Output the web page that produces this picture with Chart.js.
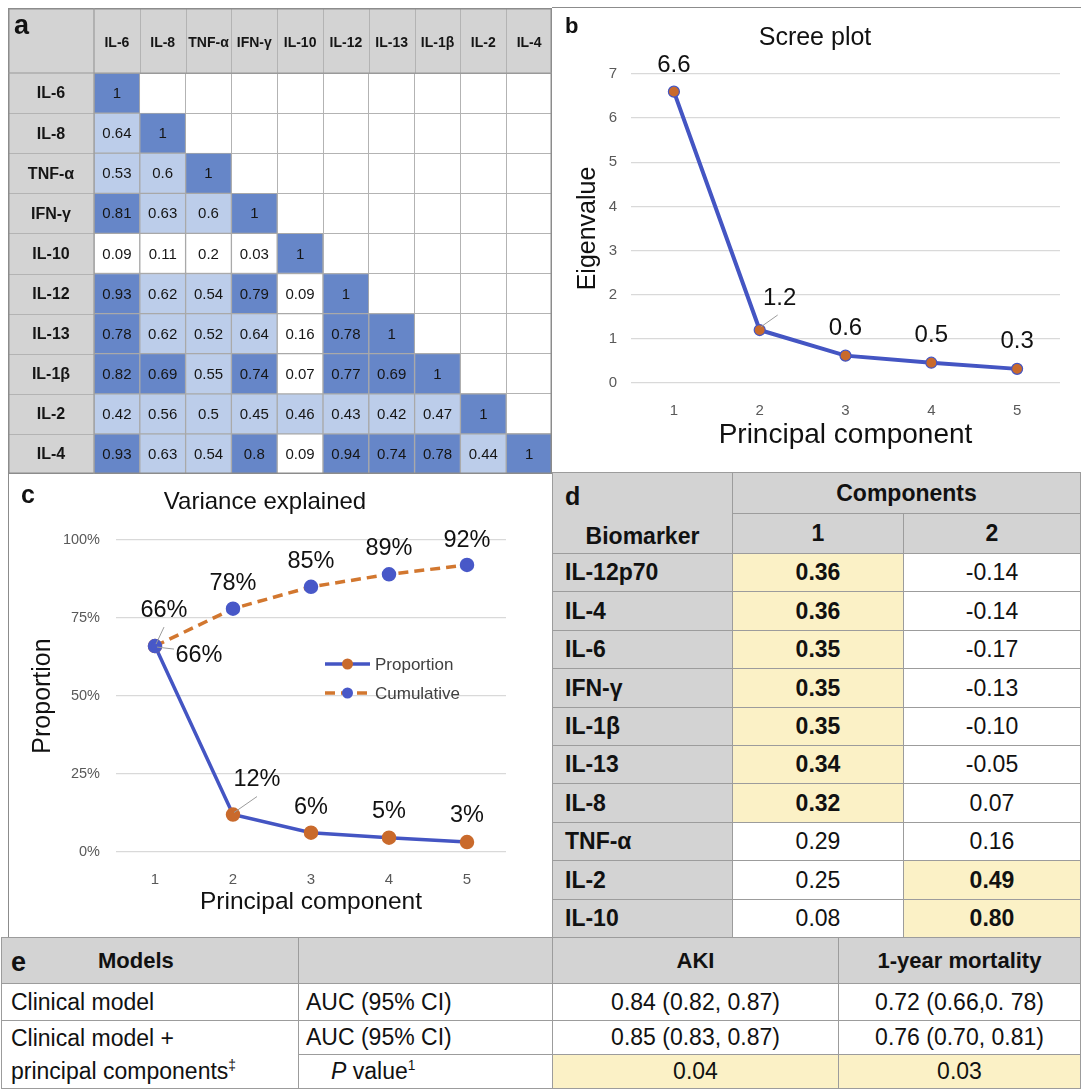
<!DOCTYPE html>
<html>
<head>
<meta charset="utf-8">
<script src="https://cdn.jsdelivr.net/npm/chart.js@4.4.1/dist/chart.umd.min.js"></script>
<style>
html, body { margin: 0; padding: 0; background: #fff; }
body { width: 1081px; height: 1089px; position: relative; overflow: hidden; font-family: 'Liberation Sans', Arial, sans-serif; color: #111; }
.box { position: absolute; }
.tag { position: absolute; font-weight: bold; line-height: 1; color: #111; }
.cell { position: absolute; box-sizing: border-box; border: 1px solid #9c9c9c; display: flex; align-items: center; justify-content: center; white-space: nowrap; background: #fff; }
.cell.gray { background: #d3d3d3; }
.cell.hi { background: #fbf1c6; }
.cell.left { justify-content: flex-start; }
.cell b { font-weight: bold; }
sup { font-size: 60%; line-height: 0; vertical-align: super; }
</style>
</head>
<body>
<div class="box" style="left:8px;top:8px;width:544px;height:466px"><canvas id="heat"></canvas></div>
<div class="box" style="left:552px;top:8px;width:529px;height:466px"><canvas id="scree"></canvas></div>
<div class="box" style="left:8px;top:474px;width:544px;height:464px"><canvas id="variance"></canvas></div>
<div id="tables"></div>

<script>
const FONT = "'Liberation Sans', Arial, sans-serif";
const BLUE = '#4455c3';
const ORANGE = '#c96a2c';

// panel a: correlation matrix (lower triangle)
const cytokines = ['IL-6', 'IL-8', 'TNF-α', 'IFN-γ', 'IL-10', 'IL-12', 'IL-13', 'IL-1β', 'IL-2', 'IL-4'];
const corr = [
    [1],
    [0.64, 1],
    [0.53, 0.6, 1],
    [0.81, 0.63, 0.6, 1],
    [0.09, 0.11, 0.2, 0.03, 1],
    [0.93, 0.62, 0.54, 0.79, 0.09, 1],
    [0.78, 0.62, 0.52, 0.64, 0.16, 0.78, 1],
    [0.82, 0.69, 0.55, 0.74, 0.07, 0.77, 0.69, 1],
    [0.42, 0.56, 0.5, 0.45, 0.46, 0.43, 0.42, 0.47, 1],
    [0.93, 0.63, 0.54, 0.8, 0.09, 0.94, 0.74, 0.78, 0.44, 1]
];

// panels b and c
const components = ['1', '2', '3', '4', '5'];
const eigenvalues = [6.6, 1.2, 0.62, 0.46, 0.32];
const proportion = [0.66, 0.12, 0.062, 0.046, 0.032];
const cumulative = [0.66, 0.78, 0.85, 0.89, 0.92];

// panel d: loadings
const biomarkers = ['IL-12p70', 'IL-4', 'IL-6', 'IFN-γ', 'IL-1β', 'IL-13', 'IL-8', 'TNF-α', 'IL-2', 'IL-10'];
const loading1 = [0.36, 0.36, 0.35, 0.35, 0.35, 0.34, 0.32, 0.29, 0.25, 0.08];
const loading2 = [-0.14, -0.14, -0.17, -0.13, -0.10, -0.05, 0.07, 0.16, 0.49, 0.80];

// panel e: model comparison
const outcomes = ['AKI', '1-year mortality'];
const aucClinical = ['0.84 (0.82, 0.87)', '0.72 (0.66,0. 78)'];
const aucCombined = ['0.85 (0.83, 0.87)', '0.76 (0.70, 0.81)'];
const pValues = ['0.04', '0.03'];

const shade = v => v >= 0.65 ? '#6686c8' : v >= 0.3 ? '#bccdea' : '#ffffff';

function line(ctx, x1, y1, x2, y2) {
    ctx.beginPath(); ctx.moveTo(x1, y1); ctx.lineTo(x2, y2); ctx.stroke();
}

// header / label column backgrounds, dividers and labels for the matrix
const heatFrame = {
    id: 'heatFrame',
    beforeDraw(chart) {
        const { ctx, chartArea: a, width, height } = chart;
        const xs = chart.scales.x, ys = chart.scales.yl;
        ctx.save();
        ctx.fillStyle = '#d3d3d3';
        ctx.fillRect(0, 0, width, height);
        ctx.fillStyle = '#fff';
        ctx.fillRect(a.left, a.top, a.right - a.left, a.bottom - a.top);
        ctx.strokeStyle = '#b3b3b3';
        ctx.lineWidth = 1;
        for (let j = 1; j < cytokines.length; j++) {
            const px = Math.round((xs.getPixelForValue(j - 1) + xs.getPixelForValue(j)) / 2) + 0.5;
            line(ctx, px, 0, px, a.top);
            const py = Math.round((ys.getPixelForValue(j - 1) + ys.getPixelForValue(j)) / 2) + 0.5;
            line(ctx, 0, py, a.left, py);
        }
        ctx.restore();
    },
    afterDraw(chart) {
        const { ctx, chartArea: a, width, height } = chart;
        const xs = chart.scales.x, ys = chart.scales.yl;
        ctx.save();
        ctx.fillStyle = '#151515';
        ctx.textAlign = 'center';
        ctx.textBaseline = 'middle';
        ctx.font = `bold 14px ${FONT}`;
        cytokines.forEach((c, j) => ctx.fillText(c, xs.getPixelForValue(j), 35));
        ctx.font = `bold 16px ${FONT}`;
        cytokines.forEach((c, i) => ctx.fillText(c, a.left / 2, ys.getPixelForValue(i) + 1));
        ctx.strokeStyle = '#8c8c8c';
        ctx.lineWidth = 1.5;
        ctx.strokeRect(0.75, 0.75, width - 1.5, height - 1.5);
        ctx.strokeStyle = '#9a9a9a';
        ctx.lineWidth = 1.2;
        line(ctx, 0, a.top, width, a.top);
        line(ctx, a.left, 0, a.left, height);
        ctx.restore();
    }
};

const heatValues = {
    id: 'heatValues',
    afterDatasetsDraw(chart) {
        const { ctx } = chart;
        const xs = chart.scales.x, ys = chart.scales.y;
        ctx.save();
        ctx.font = `15px ${FONT}`;
        ctx.fillStyle = '#151515';
        ctx.textAlign = 'center';
        ctx.textBaseline = 'middle';
        corr.forEach((row, i) => {
            row.forEach((v, j) => {
                ctx.fillText(String(v), xs.getPixelForValue(j), ys.getPixelForValue(i + 0.5) + 1);
            });
        });
        ctx.restore();
    }
};

function makePointLabels(font, place, format) {
    return {
        id: 'pointLabels',
        afterDatasetsDraw(chart) {
            const { ctx } = chart;
            ctx.save();
            ctx.font = font;
            ctx.textAlign = 'center';
            ctx.textBaseline = 'middle';
            chart.data.datasets.forEach((ds, di) => {
                const meta = chart.getDatasetMeta(di);
                meta.data.forEach((pt, i) => {
                    const p = place[di][i];
                    if (p.line) {
                        ctx.strokeStyle = '#9b9b9b';
                        ctx.lineWidth = 1;
                        line(ctx, pt.x + p.line[0], pt.y + p.line[1], pt.x + p.line[2], pt.y + p.line[3]);
                    }
                    ctx.fillStyle = '#111';
                    ctx.fillText(format(ds.data[i]), pt.x + (p.dx || 0), pt.y + p.dy);
                });
            });
            ctx.restore();
        }
    };
}

const varianceLegend = {
    id: 'varianceLegend',
    afterDraw(chart) {
        const { ctx, chartArea: a } = chart;
        ctx.save();
        chart.data.datasets.forEach((ds, i) => {
            const y = a.top + 124 + i * 29;
            const x0 = a.left + 209, x1 = x0 + 45;
            ctx.strokeStyle = ds.borderColor;
            ctx.lineWidth = ds.borderWidth;
            ctx.setLineDash(ds.borderDash || []);
            line(ctx, x0, y, x1, y);
            ctx.setLineDash([]);
            ctx.fillStyle = ds.pointBackgroundColor;
            ctx.beginPath(); ctx.arc((x0 + x1) / 2, y, ds.pointRadius, 0, Math.PI * 2); ctx.fill();
            ctx.fillStyle = '#404040';
            ctx.font = `17px ${FONT}`;
            ctx.textAlign = 'left';
            ctx.textBaseline = 'middle';
            ctx.fillText(ds.label, x1 + 5, y + 1);
        });
        ctx.restore();
    }
};

Chart.defaults.font.family = FONT;

new Chart(document.getElementById('heat'), {
    type: 'bar',
    data: {
        labels: cytokines,
        datasets: corr.map((row, i) => ({
            label: cytokines[i],
            data: cytokines.map((c, j) => j <= i ? [i, i + 1] : null),
            backgroundColor: cytokines.map((c, j) => j <= i ? shade(row[j]) : 'rgba(0,0,0,0)'),
            borderColor: '#a9a9a9',
            borderWidth: 1,
            borderSkipped: false,
            categoryPercentage: 1,
            barPercentage: 1,
            grouped: false,
            yAxisID: 'y'
        }))
    },
    options: {
        responsive: true,
        maintainAspectRatio: false,
        animation: false,
        events: [],
        layout: { padding: 0 },
        plugins: { legend: { display: false }, tooltip: { enabled: false } },
        scales: {
            x: {
                type: 'category',
                position: 'top',
                grid: { color: '#b3b3b3', drawTicks: false, offset: true },
                border: { color: '#9a9a9a' },
                ticks: { display: false },
                afterFit: s => { s.height = 65; }
            },
            y: { type: 'linear', min: 0, max: 10, reverse: true, display: false },
            yl: {
                type: 'category',
                labels: cytokines,
                position: 'left',
                offset: true,
                grid: { color: '#b3b3b3', drawTicks: false, offset: true },
                border: { color: '#9a9a9a' },
                ticks: { display: false },
                afterFit: s => { s.width = 86; }
            }
        }
    },
    plugins: [heatFrame, heatValues]
});

new Chart(document.getElementById('scree'), {
    type: 'line',
    data: {
        labels: components,
        datasets: [{
            label: 'Eigenvalue',
            data: eigenvalues,
            borderColor: BLUE,
            borderWidth: 4,
            pointBackgroundColor: ORANGE,
            pointBorderColor: BLUE,
            pointBorderWidth: 1.2,
            pointRadius: 5.5,
            tension: 0
        }]
    },
    options: {
        responsive: true,
        maintainAspectRatio: false,
        animation: false,
        events: [],
        layout: { padding: { left: 18, right: 21, top: 0, bottom: 0 } },
        plugins: {
            legend: { display: false },
            tooltip: { enabled: false },
            title: { display: true, text: 'Scree plot', color: '#111', font: { size: 25, weight: 'normal' }, padding: { top: 15, bottom: 21 } }
        },
        scales: {
            x: {
                offset: true,
                grid: { display: false },
                border: { display: false },
                ticks: { color: '#595959', font: { size: 15 }, padding: 11 },
                title: { display: true, text: 'Principal component', color: '#111', font: { size: 28 }, padding: { top: 0, bottom: 22 } },
                afterFit: s => { s.height = 91; }
            },
            y: {
                min: 0,
                max: 7,
                grid: { color: '#d9d9d9', lineWidth: 1.3, drawTicks: false },
                border: { display: false },
                ticks: { stepSize: 1, color: '#595959', font: { size: 15 }, padding: 14 },
                title: { display: true, text: 'Eigenvalue', color: '#111', font: { size: 25 }, padding: { top: 3, bottom: 0 } },
                afterFit: s => { s.width = 61; }
            }
        }
    },
    plugins: [makePointLabels(`24px ${FONT}`, [[
        { dy: -26 },
        { dx: 20, dy: -32, line: [1, -3, 18, -15] },
        { dy: -27 },
        { dy: -27 },
        { dy: -27 }
    ]], v => v.toFixed(1))]
});

new Chart(document.getElementById('variance'), {
    type: 'line',
    data: {
        labels: components,
        datasets: [{
            label: 'Proportion',
            data: proportion,
            borderColor: BLUE,
            borderWidth: 3.5,
            pointBackgroundColor: ORANGE,
            pointBorderColor: ORANGE,
            pointRadius: 5.5,
            tension: 0,
            order: 1
        }, {
            label: 'Cumulative',
            data: cumulative,
            borderColor: '#d2772f',
            borderWidth: 3.5,
            borderDash: [10, 6],
            pointBackgroundColor: '#4858c8',
            pointBorderColor: '#4858c8',
            pointRadius: 5.5,
            tension: 0,
            order: 0
        }]
    },
    options: {
        responsive: true,
        maintainAspectRatio: false,
        animation: false,
        events: [],
        layout: { padding: { left: 16, right: 46, top: 0, bottom: 0 } },
        plugins: {
            legend: { display: false },
            tooltip: { enabled: false },
            title: { display: true, text: 'Variance explained', color: '#111', font: { size: 24, weight: 'normal' }, padding: { top: 13.6, bottom: 23.6 } }
        },
        scales: {
            x: {
                offset: true,
                grid: { display: false },
                border: { display: false },
                ticks: { color: '#595959', font: { size: 15 }, padding: 11 },
                title: { display: true, text: 'Principal component', color: '#111', font: { size: 24.5 }, padding: { top: 0, bottom: 21.5 } },
                afterFit: s => { s.height = 86; }
            },
            y: {
                min: 0,
                max: 1,
                grid: { color: '#d9d9d9', lineWidth: 1.3, drawTicks: false },
                border: { display: false },
                ticks: { stepSize: 0.25, color: '#595959', font: { size: 14.5 }, padding: 16, callback: v => Math.round(v * 100) + '%' },
                title: { display: true, text: 'Proportion', color: '#111', font: { size: 25 }, padding: { top: 4, bottom: 0 } },
                afterFit: s => { s.width = 92; }
            }
        }
    },
    plugins: [makePointLabels(`23.5px ${FONT}`, [[
        { dx: 44, dy: 9, line: [2, 1, 19, 3] },
        { dx: 24, dy: -35, line: [1, -2, 24, -18] },
        { dy: -25 },
        { dy: -26 },
        { dy: -27 }
    ], [
        { dx: 9, dy: -36, line: [1, -2, 9, -19] },
        { dy: -25 },
        { dy: -25 },
        { dy: -26 },
        { dy: -24 }
    ]], v => Math.round(v * 100) + '%'), varianceLegend]
});

// tables d and e
const host = document.getElementById('tables');

function cell(x, y, w, h, html, cls, style) {
    const d = document.createElement('div');
    d.className = 'cell ' + (cls || '');
    d.style.cssText = `left:${x}px;top:${y}px;width:${w + 1}px;height:${h + 1}px;` + (style || '');
    d.innerHTML = `<span>${html}</span>`;
    host.appendChild(d);
    return d;
}

function tag(text, x, y, size) {
    const d = document.createElement('div');
    d.className = 'tag';
    d.style.cssText = `left:${x}px;top:${y}px;font-size:${size}px`;
    d.textContent = text;
    document.body.appendChild(d);
}

// d
const dCols = [552, 732, 903, 1080];
const dTop = 472, dHead = 513, dBody = 553, dRow = 38.4;
const dFont = 'font-size:23px;';
cell(dCols[0], dTop, dCols[1] - dCols[0], dBody - dTop, '<b>Biomarker</b>', 'gray', dFont + 'align-items:flex-end;padding-bottom:3px;');
cell(dCols[1], dTop, dCols[3] - dCols[1], dHead - dTop, '<b>Components</b>', 'gray', dFont);
cell(dCols[1], dHead, dCols[2] - dCols[1], dBody - dHead, '<b>1</b>', 'gray', dFont);
cell(dCols[2], dHead, dCols[3] - dCols[2], dBody - dHead, '<b>2</b>', 'gray', dFont);
biomarkers.forEach((name, i) => {
    const y = Math.round(dBody + i * dRow);
    const h = Math.round(dBody + (i + 1) * dRow) - y;
    cell(dCols[0], y, dCols[1] - dCols[0], h, `<b>${name}</b>`, 'gray left', dFont + 'padding-left:12px;');
    [loading1[i], loading2[i]].forEach((v, k) => {
        const strong = v >= 0.3;
        const txt = v.toFixed(2);
        cell(dCols[k + 1], y, dCols[k + 2] - dCols[k + 1], h, strong ? `<b>${txt}</b>` : txt, strong ? 'hi' : '', dFont);
    });
});
tag('d', 565, 484, 25);

// e
const eCols = [1, 298, 552, 838, 1080];
const eRows = [937, 983, 1020, 1054, 1088];
const eFont = 'font-size:23px;';
const eHead = 'font-size:22px;';
cell(eCols[0], eRows[0], eCols[1] - eCols[0], eRows[1] - eRows[0], '<b>Models</b>', 'gray left', eHead + 'padding-left:96px;');
cell(eCols[1], eRows[0], eCols[2] - eCols[1], eRows[1] - eRows[0], '', 'gray');
outcomes.forEach((o, k) => {
    cell(eCols[k + 2], eRows[0], eCols[k + 3] - eCols[k + 2], eRows[1] - eRows[0], `<b>${o}</b>`, 'gray', eHead);
});
cell(eCols[0], eRows[1], eCols[1] - eCols[0], eRows[2] - eRows[1], 'Clinical model', 'left', eFont + 'padding-left:9px;');
cell(eCols[1], eRows[1], eCols[2] - eCols[1], eRows[2] - eRows[1], 'AUC (95% CI)', 'left', eFont + 'padding-left:7px;');
aucClinical.forEach((t, k) => cell(eCols[k + 2], eRows[1], eCols[k + 3] - eCols[k + 2], eRows[2] - eRows[1], t, '', eFont));
cell(eCols[0], eRows[2], eCols[1] - eCols[0], eRows[4] - eRows[2], 'Clinical model +<br>principal components<sup>‡</sup>', 'left', eFont + 'padding-left:9px;line-height:33px;');
cell(eCols[1], eRows[2], eCols[2] - eCols[1], eRows[3] - eRows[2], 'AUC (95% CI)', 'left', eFont + 'padding-left:7px;');
aucCombined.forEach((t, k) => cell(eCols[k + 2], eRows[2], eCols[k + 3] - eCols[k + 2], eRows[3] - eRows[2], t, '', eFont));
cell(eCols[1], eRows[3], eCols[2] - eCols[1], eRows[4] - eRows[3], '<i>P</i> value<sup>1</sup>', 'left', eFont + 'padding-left:32px;');
pValues.forEach((t, k) => cell(eCols[k + 2], eRows[3], eCols[k + 3] - eCols[k + 2], eRows[4] - eRows[3], t, 'hi', eFont));
tag('e', 11, 949, 27);

// panel letters and frame lines
tag('a', 14, 12, 27);
tag('b', 565, 15, 22);
tag('c', 21, 482, 25);

const frame = document.createElement('div');
frame.style.cssText = 'position:absolute;left:552px;top:7px;width:529px;height:1px;background:#8c8c8c';
document.body.appendChild(frame);
const cLeft = document.createElement('div');
cLeft.style.cssText = 'position:absolute;left:8px;top:474px;width:1px;height:463px;background:#8c8c8c';
document.body.appendChild(cLeft);
</script>
</body>
</html>
